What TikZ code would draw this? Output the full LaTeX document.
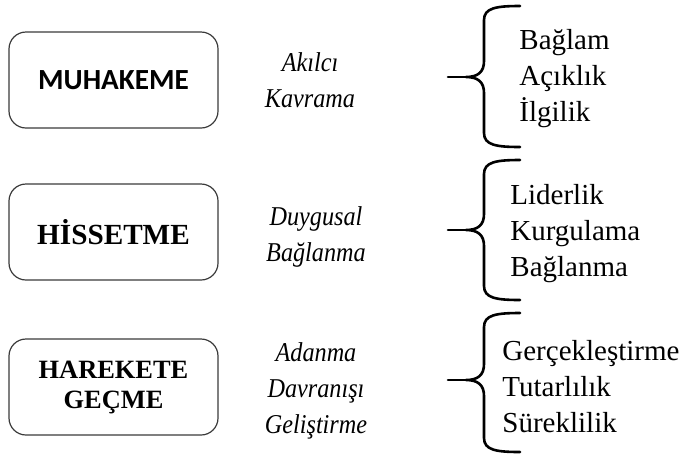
\documentclass[tikz,border=0pt]{standalone}
\usepackage{fontspec}
\setmainfont{Liberation Serif}
\newfontfamily\calibrifont{Carlito}
\newfontfamily\italikfont[FakeStretch=0.89]{Liberation Serif}
\usetikzlibrary{positioning}
\definecolor{kutugri}{HTML}{3A3A3A}

% one curly bracket: top, tip, bottom (in px)
\newcommand{\parantezciz}[3]{%
  \draw[parantez] (520,#1) .. controls (496,#1) and (484,#1+2) .. (484,#1+14)
    -- (484,#2-16) .. controls (484,#2-5) and (478,#2) .. (466,#2)
    .. controls (478,#2) and (484,#2+5) .. (484,#2+16)
    -- (484,#3-14) .. controls (484,#3-2) and (496,#3) .. (520,#3);
  \draw[parantez] (448,#2) -- (466,#2);
}

\tikzset{
  kutu/.style={draw=kutugri, line width=0.6pt, rounded corners=8.5pt,
    minimum width=104.5pt, minimum height=48pt, align=center,
    font=\fontsize{14.6}{16}\selectfont\bfseries},
  orta/.style={align=center, font=\fontsize{13.6}{18}\selectfont\italikfont\itshape},
  liste/.style={anchor=west, align=left, inner sep=0pt,
    font=\fontsize{14.5}{18}\selectfont},
  parantez/.style={line width=1.3pt, line join=round, line cap=round}
}

\begin{document}
\begin{tikzpicture}[x=0.5pt, y=-0.5pt]
  \useasboundingbox (0,0) rectangle (683,456);

  % left boxes
  \node[kutu, font=\fontsize{14.6}{16}\selectfont\calibrifont\bfseries] (muhakeme) at (113.5,80) {MUHAKEME};
  \node[kutu] (hissetme) at (113.5,232) {HİSSETME};
  \node[kutu, font=\fontsize{13.2}{15}\selectfont\bfseries] (harekete) at (113.5,387) {HAREKETE\\GEÇME};

  % middle texts
  \node[orta] (akilci) at (310,80) {Akılcı\\Kavrama};
  \node[orta] (duygusal) at (316,237) {Duygusal\\Bağlanma};
  \node[orta] (adanma) at (316,391) {Adanma\\Davranışı\\Geliştirme};

  % brackets
  \parantezciz{6}{77}{147}
  \parantezciz{160}{230}{300}
  \parantezciz{313}{380}{452}

  % lists
  \node[liste] (baglam) at (519,79) {Bağlam\\Açıklık\\İlgilik};
  \node[liste] (liderlik) at (510,234) {Liderlik\\Kurgulama\\Bağlanma};
  \node[liste] (gercek) at (502,387) {Gerçekleştirme\\Tutarlılık\\Süreklilik};
\end{tikzpicture}
\end{document}
